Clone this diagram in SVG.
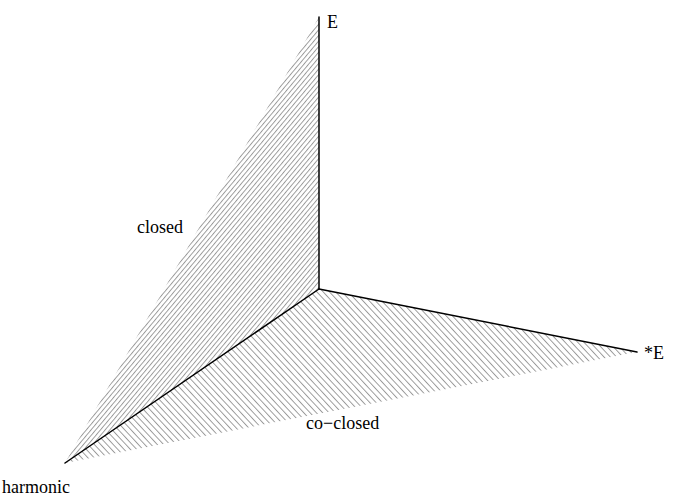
<svg xmlns="http://www.w3.org/2000/svg" width="686" height="498" viewBox="0 0 686 498">
<style>
.lbl{font-family:"Liberation Serif","Times New Roman",serif;font-size:18px;fill:#000}
.axis{stroke:#000;stroke-width:1.5;fill:none;stroke-linecap:round}
.hatch{stroke:#808080;stroke-width:0.8}
</style>
<defs>
<pattern id="h1" width="3.6" height="10" patternUnits="userSpaceOnUse" patternTransform="rotate(40)">
<line class="hatch" x1="0.5" y1="0" x2="0.5" y2="10"/>
</pattern>
<pattern id="h2" width="4.6" height="10" patternUnits="userSpaceOnUse" patternTransform="rotate(-43)">
<line class="hatch" x1="0.5" y1="0" x2="0.5" y2="10"/>
</pattern>
</defs>
<g id="closed-face">
<polygon points="319,17 319,289 65,463" fill="url(#h1)"/>
</g>
<g id="coclosed-face">
<polygon points="319,289 637,352 65,463" fill="url(#h2)"/>
</g>
<g id="connectors">
<line class="axis" x1="319" y1="17" x2="319" y2="289"/>
<line class="axis" x1="319" y1="289" x2="637" y2="352"/>
<line class="axis" x1="319" y1="289" x2="65" y2="463"/>
</g>
<g id="label-E"><text class="lbl" x="327" y="28">E</text></g>
<g id="label-starE"><text class="lbl" x="644" y="359">*E</text></g>
<g id="label-closed"><text class="lbl" x="137" y="233">closed</text></g>
<g id="label-coclosed"><text class="lbl" x="306" y="429">co−closed</text></g>
<g id="label-harmonic"><text class="lbl" x="2" y="493">harmonic</text></g>
</svg>
